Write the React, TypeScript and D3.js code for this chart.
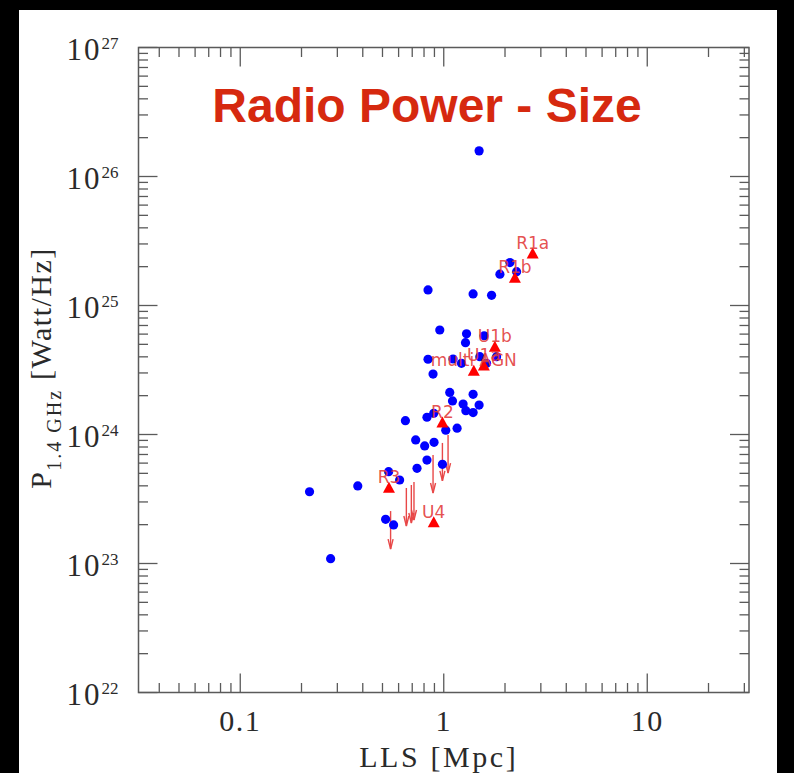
import React from "react";
import * as d3 from "d3";

// Blue circles: [LLS (Mpc), P1.4GHz (W/Hz)]
const circleLLS = [0.219, 0.278, 0.378, 0.536, 0.607, 0.518, 0.567, 0.648, 0.728, 0.806, 0.896, 0.827, 0.739, 0.985, 1.023, 1.163, 0.893, 0.827, 1.07, 1.104, 1.394, 1.245, 1.492, 1.284, 1.394, 0.886, 0.837, 1.111, 1.222, 1.504, 1.623, 1.818, 0.956, 1.294, 1.579, 1.279, 0.837, 1.394, 1.718, 2.115, 1.888, 2.28, 1.492];
const circlePower = [3.6e23, 1.09e23, 3.99e23, 5.15e23, 4.44e23, 2.2e23, 1.99e23, 1.28e24, 9.07e23, 8.15e23, 8.7e23, 6.34e23, 5.47e23, 5.87e23, 1.08e24, 1.12e24, 1.46e24, 1.36e24, 2.12e24, 1.82e24, 2.05e24, 1.72e24, 1.69e24, 1.53e24, 1.48e24, 2.94e24, 3.83e24, 3.85e24, 3.56e24, 4.01e24, 3.56e24, 4.01e24, 6.46e24, 6.04e24, 5.83e24, 5.15e24, 1.32e25, 1.23e25, 1.2e25, 2.15e25, 1.75e25, 1.83e25, 1.58e26];

// Red triangles (labelled)
const triNames = ["R1a", "R1b", "U1b", "U1a", "multi AGN", "R2", "R3", "U4"];
const triLLS = [2.735, 2.237, 1.783, 1.574, 1.405, 0.985, 0.538, 0.893];
const triPower = [2.51e25, 1.63e25, 4.74e24, 3.4e24, 3.09e24, 1.23e24, 3.83e23, 2.07e23];

// Upper limits (arrows)
const limLLS = [0.548, 0.655, 0.693, 0.714, 0.886, 0.985, 1.05];
const limPower = [2.55e23, 3.85e23, 4.06e23, 4.28e23, 6.94e23, 8.6e23, 9.9e23];

const xMajor = [0.1, 1, 10];
const xMajorLabels = ["0.1", "1", "10"];
const yExponents = [22, 23, 24, 25, 26, 27];

const W = 794, H = 773;
const L = 138.5, R = 749, T = 47.5, B = 692.5;

export default function App() {
  const x = d3.scaleLog().domain([Math.pow(10, -1.5), Math.pow(10, 1.5)]).range([L, R]);
  const y = d3.scaleLog().domain([1e22, 1e27]).range([B, T]);

  const xMinor: number[] = [];
  for (let e = -2; e <= 1; e++) for (let m = 2; m <= 9; m++) {
    const v = m * Math.pow(10, e);
    if (v > x.domain()[0] && v < x.domain()[1]) xMinor.push(v);
  }
  const yMinor: number[] = [];
  for (let e = 22; e < 27; e++) for (let m = 2; m <= 9; m++) yMinor.push(m * Math.pow(10, e));

  const axisColor = "#5a5a5a";
  const major = 19, minor = 9.5;
  const serif = "'Liberation Serif', 'Times New Roman', serif";
  const red = "#ff0000";
  const labelRed = "#e23b3b";
  const textColor = "#2a2a2a";

  return (
    <div style={{ position: "fixed", left: 0, top: 0 }}>
      <svg width={W} height={H} style={{ display: "block" }}>
        <rect x={0} y={0} width={W} height={H} fill="#000" />
        <rect x={19} y={10} width={758} height={H - 10} fill="#fff" />
        {/* frame */}
        <rect x={L} y={T} width={R - L} height={B - T} fill="none" stroke={axisColor} strokeWidth={1.5} />
        {/* x ticks */}
        {xMajor.map((v) => (
          <g key={"xm" + v}>
            <line x1={x(v)} x2={x(v)} y1={B} y2={B - major} stroke={axisColor} strokeWidth={1.3} />
            <line x1={x(v)} x2={x(v)} y1={T} y2={T + major} stroke={axisColor} strokeWidth={1.3} />
          </g>
        ))}
        {xMinor.map((v) => (
          <g key={"xn" + v}>
            <line x1={x(v)} x2={x(v)} y1={B} y2={B - minor} stroke={axisColor} strokeWidth={1.3} />
            <line x1={x(v)} x2={x(v)} y1={T} y2={T + minor} stroke={axisColor} strokeWidth={1.3} />
          </g>
        ))}
        {/* y ticks */}
        {yExponents.map((e) => {
          const v = Math.pow(10, e);
          return (
            <g key={"ym" + e}>
              <line x1={L} x2={L + major} y1={y(v)} y2={y(v)} stroke={axisColor} strokeWidth={1.3} />
              <line x1={R} x2={R - major} y1={y(v)} y2={y(v)} stroke={axisColor} strokeWidth={1.3} />
            </g>
          );
        })}
        {yMinor.map((v) => (
          <g key={"yn" + v}>
            <line x1={L} x2={L + minor} y1={y(v)} y2={y(v)} stroke={axisColor} strokeWidth={1.3} />
            <line x1={R} x2={R - minor} y1={y(v)} y2={y(v)} stroke={axisColor} strokeWidth={1.3} />
          </g>
        ))}
        {/* x tick labels */}
        {xMajor.map((v, i) => (
          <text key={"xl" + v} x={x(v)} y={B + 38} textAnchor="middle" fontFamily={serif} fontSize={30} letterSpacing={1.5} fill={textColor}>
            {xMajorLabels[i]}
          </text>
        ))}
        {/* y tick labels */}
        {yExponents.map((e) => (
          <text key={"yl" + e} x={L - 20} y={y(Math.pow(10, e)) + 12} textAnchor="end" fontFamily={serif} fill={textColor}>
            <tspan fontSize={31} letterSpacing={2}>10</tspan>
            <tspan fontSize={17} dy={-11}>{e}</tspan>
          </text>
        ))}
        {/* axis titles */}
        <text x={(L + R) / 2 - 5} y={767} textAnchor="middle" fontFamily={serif} fontSize={30} letterSpacing={2.6} fill={textColor}>
          LLS [Mpc]
        </text>
        <text transform={`translate(51, 368) rotate(-90)`} textAnchor="middle" fontFamily={serif} fontSize={30} letterSpacing={1.5} fill={textColor}>
          <tspan>P</tspan>
          <tspan fontSize={20} letterSpacing={2} dy={10}>1.4 GHz</tspan>
          <tspan dy={-10}> [Watt/Hz]</tspan>
        </text>
        {/* title */}
        <text x={427} y={122} textAnchor="middle" fontFamily="'Liberation Sans', Arial, sans-serif" fontWeight="bold" fontSize={48} fill="#d6290f">
          Radio Power - Size
        </text>
        {/* upper limit arrows */}
        {limLLS.map((v, i) => {
          const px = x(v), py = y(limPower[i]);
          const len = 38;
          return (
            <g key={"lim" + i} stroke="#e84848" strokeWidth={1.4} fill="none">
              <line x1={px} x2={px} y1={py} y2={py + len} />
              <path d={`M${px - 2.5},${py + len - 10} L${px},${py + len} L${px + 2.5},${py + len - 10}`} />
            </g>
          );
        })}
        {/* circles */}
        {circleLLS.map((v, i) => (
          <circle key={"c" + i} cx={x(v)} cy={y(circlePower[i])} r={4.6} fill="#0000ff" />
        ))}
        {/* triangles */}
        {triLLS.map((v, i) => {
          const px = x(v), py = y(triPower[i]);
          return (
            <path key={"t" + i} d={`M${px},${py - 6.5} L${px + 6},${py + 4.5} L${px - 6},${py + 4.5} Z`} fill={red} />
          );
        })}
        {triLLS.map((v, i) => (
          <text key={"tl" + i} x={x(v)} y={y(triPower[i]) - 5} textAnchor="middle" fontFamily="'DejaVu Sans', sans-serif" fontSize={17} fill={labelRed} fillOpacity={0.9}>
            {triNames[i]}
          </text>
        ))}
      </svg>
    </div>
  );
}
